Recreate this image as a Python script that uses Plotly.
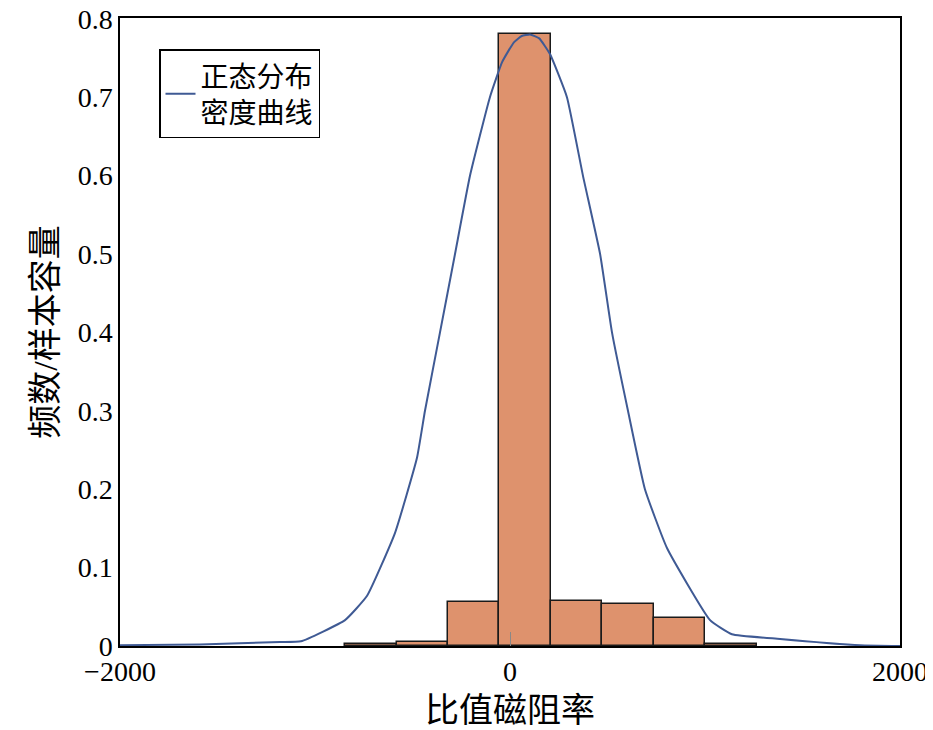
import plotly.graph_objects as go

# 直方图数据
bin_left = [-846, -582, -318, -56, 210, 472, 738, 1002]
bin_width = 264
freq = [0.003, 0.005, 0.056, 0.78, 0.058, 0.054, 0.036, 0.003]

# 正态分布密度曲线
curve_x = [-2000, -1590, -1180, -1072, -846, -733, -590, -477, -436, -359, -282, -205,
           -103, -40, 20, 60, 103, 150, 205, 292, 374, 462, 523, 605, 692, 805, 1026,
           1138, 1385, 1795, 2000]
curve_y = [0.001, 0.002, 0.005, 0.006, 0.033, 0.064, 0.144, 0.24, 0.3, 0.4, 0.5, 0.6,
           0.7, 0.745, 0.77, 0.778, 0.78, 0.775, 0.755, 0.7, 0.6, 0.5, 0.4, 0.3, 0.2,
           0.125, 0.033, 0.015, 0.009, 0.001, 0.0]

font_main = "Liberation Serif, Noto Sans CJK SC"

fig = go.Figure()
fig.add_trace(go.Bar(
    x=[b + bin_width / 2 for b in bin_left], y=freq, width=bin_width,
    marker=dict(color="#de926d", line=dict(color="#1a1a1a", width=1.5)),
    showlegend=False,
))
fig.add_trace(go.Scatter(
    x=curve_x, y=curve_y, mode="lines", name="正态分布<br>密度曲线",
    line=dict(color="#3f5a94", width=2, shape="spline", smoothing=0.4),
))

fig.update_layout(
    width=933, height=730,
    plot_bgcolor="white", paper_bgcolor="white",
    margin=dict(l=112, r=41, t=10, b=92, autoexpand=False),
    font=dict(family=font_main, size=28, color="black"),
    bargap=0,
    legend=dict(x=0.05, y=0.95, xanchor="left", yanchor="top",
                bordercolor="black", borderwidth=1.5, bgcolor="white",
                font=dict(size=28)),
    xaxis=dict(range=[-2000, 2000], tickvals=[-2000, 0, 2000],
               ticktext=["−2000", "0", "2000"],
               title=dict(text="比值磁阻率", standoff=12),
               showline=True, linecolor="black", linewidth=1.5, mirror=True,
               ticks="inside", ticklen=14, tickcolor="#888", showgrid=False, zeroline=False),
    yaxis=dict(range=[0, 0.801], tickvals=[0, 0.1, 0.2, 0.3, 0.4, 0.5, 0.6, 0.7, 0.8],
               ticktext=["0", "0.1", "0.2", "0.3", "0.4", "0.5", "0.6", "0.7", "0.8"],
               ticklabeloverflow="allow",
               title=dict(text="频数/样本容量", standoff=10),
               showline=True, linecolor="black", linewidth=1.5, mirror=True,
               ticks="", showgrid=False, zeroline=False),
)

fig.write_html("out.html")
